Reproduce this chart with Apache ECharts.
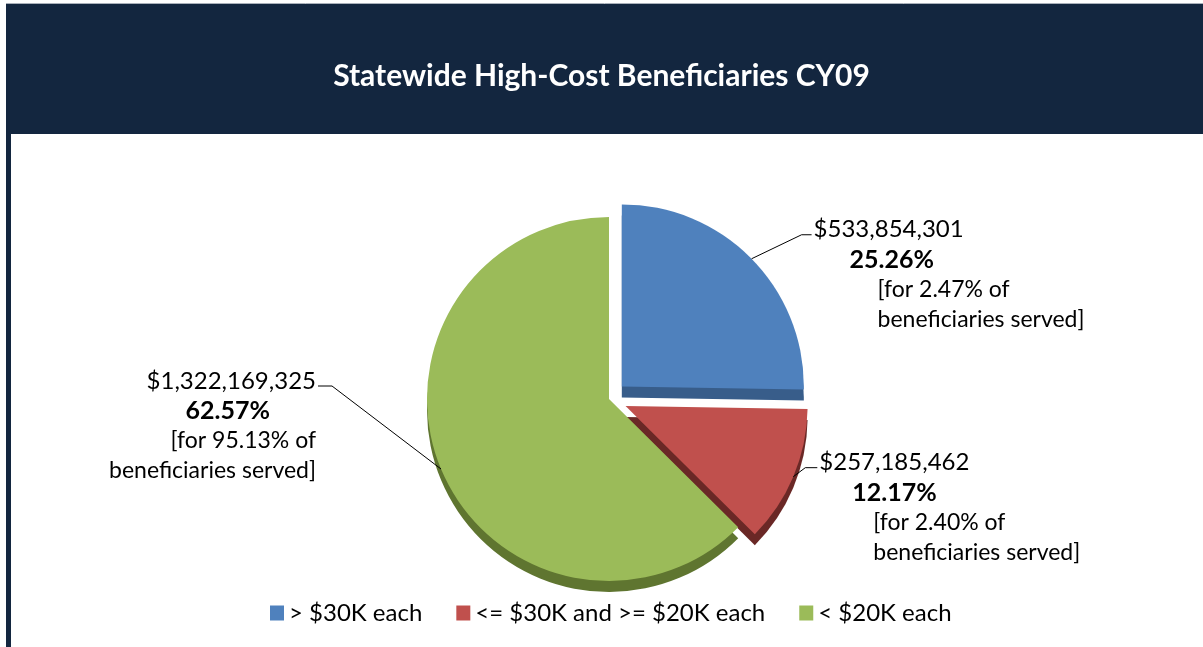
<!DOCTYPE html>
<html>
<head>
<meta charset="utf-8">
<script src="https://cdn.jsdelivr.net/npm/echarts@6/dist/echarts.min.js"></script>
<style>
  html, body { margin: 0; padding: 0; background: #ffffff; }
  #chart { width: 1203px; height: 647px; }
</style>
</head>
<body>
<div id="chart"></div>
<script>
// Spending groups and their totals for calendar year 2009
const categories = ['> $30K each', '<= $30K and >= $20K each', '< $20K each'];
const totalCost = [533854301, 257185462, 1322169325];
const beneficiaryShare = [2.47, 2.40, 95.13];
const pulledOut = [true, true, false];

const FONT = 'Lato, "Open Sans", sans-serif';
const topColors = ['#4F81BD', '#C0504D', '#9BBB59'];
const sideColors = ['#385D8A', '#6A2826', '#5F7530'];

// leader line: elbow offset from the slice edge, then a short horizontal tail;
// indent = padding of the percentage line and of the two note lines
const leaders = [
  { dx: 50, dy: -24, tail: 10, indent: [36, 64] },
  { dx: 12, dy: -9, tail: 12, indent: [33, 54] },
  { dx: -109, dy: -83, tail: 14, indent: [46, 0] }
];

const PIE_CENTER = [609, 399];
const PIE_RADIUS = 182;
const THICKNESS = 11;
const OFFSET = 18;

function richFor(i) {
  const right = leaders[i].dx < 0;
  const pad = (n) => right ? [0, n, 0, 0] : [0, 0, 0, n];
  const base = { fontFamily: FONT, color: '#000', lineHeight: 30 };
  return {
    amt: Object.assign({ fontSize: 24 }, base),
    pct: Object.assign({ fontSize: 25, fontWeight: 'bold', padding: pad(leaders[i].indent[0]) }, base),
    note: Object.assign({ fontSize: 23, padding: pad(leaders[i].indent[1]) }, base)
  };
}

const sliceData = (colors) => categories.map((name, i) => ({
  name: name,
  value: totalCost[i],
  selected: pulledOut[i],
  itemStyle: { color: colors[i] }
}));

const labelData = categories.map((name, i) => ({
  name: name,
  value: totalCost[i],
  label: { rich: richFor(i) }
}));

const pieBase = {
  type: 'pie',
  radius: PIE_RADIUS,
  startAngle: 90,
  clockwise: true,
  avoidLabelOverlap: false,
  emphasis: { disabled: true },
  select: { itemStyle: { borderWidth: 0 } }
};

const chart = echarts.init(document.getElementById('chart'), null, { renderer: 'canvas' });

chart.setOption({
  animation: false,
  backgroundColor: '#ffffff',
  graphic: [
    { type: 'rect', z: -10, shape: { x: 6, y: 4, width: 1197, height: 130 }, style: { fill: '#13263F' } },
    { type: 'rect', z: -10, shape: { x: 6, y: 4, width: 5, height: 643 }, style: { fill: '#13263F' } },
    { type: 'line', z: -10, shape: { x1: 6, y1: 3.5, x2: 1203, y2: 3.5 }, style: { stroke: '#A9B0BA', lineWidth: 1 } }
  ],
  title: {
    text: 'Statewide High-Cost Beneficiaries CY09',
    left: 'center',
    top: 56,
    textStyle: { color: '#ffffff', fontFamily: FONT, fontWeight: 'bold', fontSize: 30 }
  },
  legend: {
    data: categories,
    left: 265,
    top: 596,
    icon: 'rect',
    itemWidth: 14,
    itemHeight: 15,
    itemGap: 34,
    textStyle: { fontFamily: FONT, fontSize: 24, color: '#000' }
  },
  series: [
    // top faces of the slices
    Object.assign({}, pieBase, {
      name: 'cost',
      z: 3,
      center: PIE_CENTER,
      selectedMode: 'multiple',
      selectedOffset: OFFSET,
      label: { show: false },
      labelLine: { show: false },
      data: sliceData(topColors)
    }),
    // darker copy drawn lower to give the pie its depth
    Object.assign({}, pieBase, {
      name: 'depth',
      z: 1,
      silent: true,
      center: [PIE_CENTER[0], PIE_CENTER[1] + THICKNESS],
      selectedMode: 'multiple',
      selectedOffset: OFFSET,
      label: { show: false },
      labelLine: { show: false },
      data: sliceData(sideColors)
    }),
    // value labels with leader lines
    Object.assign({}, pieBase, {
      name: 'labels',
      z: 5,
      silent: true,
      center: PIE_CENTER,
      itemStyle: { color: 'rgba(0,0,0,0)' },
      label: {
        show: true,
        position: 'outside',
        fontFamily: FONT,
        color: '#000',
        formatter: (p) => [
          '{amt|$' + p.value.toLocaleString('en-US') + '}',
          '{pct|' + p.percent.toFixed(2) + '%}',
          '{note|[for ' + beneficiaryShare[p.dataIndex].toFixed(2) + '% of}',
          '{note|beneficiaries served]}'
        ].join('\n')
      },
      labelLine: { show: true, length: 10, length2: 10, lineStyle: { color: '#000', width: 1 } },
      labelLayout: (p) => {
        const pts = p.labelLinePoints;
        if (!pts) return {};
        const g = leaders[p.dataIndex];
        const a = pts[0];
        let ux = pts[1][0] - a[0], uy = pts[1][1] - a[1];
        const n = Math.hypot(ux, uy) || 1;
        ux /= n; uy /= n;
        const s = pulledOut[p.dataIndex] ? OFFSET : 0;
        // edge of the slice once it is pulled out
        const ax = a[0] + ux * s, ay = a[1] + uy * s;
        const ex = ax + g.dx, ey = ay + g.dy;
        const side = g.dx < 0 ? -1 : 1;
        const tx = ex + side * g.tail;
        return {
          x: tx + side * 2,
          y: ey - 20,
          align: side < 0 ? 'right' : 'left',
          verticalAlign: 'top',
          labelLinePoints: [[ax, ay], [ex, ey], [tx, ey]]
        };
      },
      data: labelData
    })
  ]
});
</script>
</body>
</html>
